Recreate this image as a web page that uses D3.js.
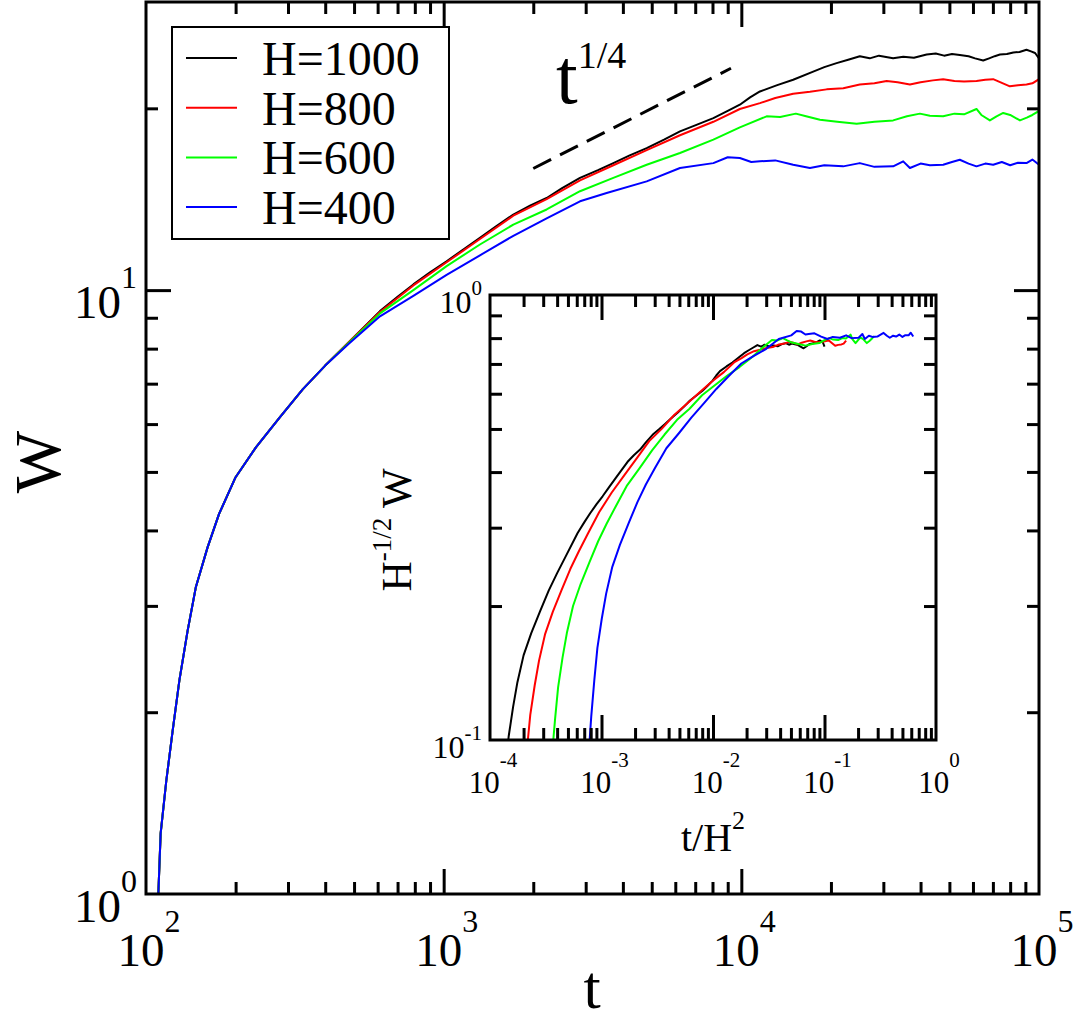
<!DOCTYPE html>
<html><head><meta charset="utf-8">
<script src="https://cdn.jsdelivr.net/npm/d3@7"></script>
<style>
body{margin:0;background:#fff}
svg{display:block}
</style>
</head><body><script>
// ---------------- DATA ----------------
const heightsH = [1000, 800, 600, 400];
const seriesNames = ["H=1000", "H=800", "H=600", "H=400"];
const seriesColors = ["#000000", "#ff0000", "#00ff00", "#0000ff"];

// early-time part, identical for all H  [t, W]
const earlyPart = [[110,1.0],[112,1.26],[117,1.54],[123,1.87],[129.5,2.26],[138,2.73],[147,3.22],[161,3.75],[176,4.26],[200,4.9],[234,5.49],[281,6.15],[336,6.85],[400,7.5]];

const lateH1000 = [[480,8.2],[611,9.23],[700,9.75],[791,10.22],[900,10.7],[1023,11.16],[1170,11.7],[1324,12.21],[1500,12.75],[1714,13.34],[1950,13.8],[2218,14.21],[2500,14.75],[2871,15.34],[3300,15.8],[3715,16.23],[4200,16.7],[4809,17.19],[5500,17.75],[6222,18.32],[7100,18.8],[8054,19.27],[9000,19.8],[9886,20.28],[10700,20.85],[11548,21.33],[13200,21.85],[14933,22.3],[17436,23.01],[19000,23.4],[20893,23.76],[23000,24.1],[25003,24.4],[27000,24.2],[29000,24.45],[32359,24.2],[35000,24.35],[38000,24.25],[41929,24.55],[45000,24.65],[48000,24.45],[51000,24.6],[54200,24.5],[58000,24.4],[61000,24.2],[64937,24.0],[68000,24.2],[71000,24.4],[73930,24.55],[78000,24.6],[82000,24.75],[86000,24.8],[90780,25.0],[94000,24.85],[97000,24.7],[100000,24.2]];

const lateH800 = [[480,8.2],[611,9.2],[791,10.18],[1023,11.12],[1324,12.15],[1714,13.28],[2218,14.15],[2871,15.2],[3715,16.1],[4809,17.05],[6222,18.05],[8054,19.0],[9886,19.95],[11548,20.4],[13000,20.8],[14933,21.15],[17000,21.3],[19346,21.5],[22000,21.6],[25003,21.9],[28000,22.0],[30760,22.2],[33500,22.1],[36840,21.9],[40000,22.1],[44000,22.25],[47640,22.35],[52000,22.2],[56000,22.15],[61660,22.2],[66000,22.3],[70150,22.35],[74000,22.1],[79830,21.75],[85000,21.85],[90780,21.9],[95000,22.0],[100000,22.35]];

const lateH600 = [[480,8.18],[611,9.15],[791,10.0],[1023,10.96],[1324,11.9],[1714,12.84],[2218,13.6],[2871,14.58],[3715,15.34],[4809,16.13],[6222,16.87],[8054,17.75],[9886,18.6],[12160,19.4],[13500,19.35],[15240,19.6],[16500,19.4],[18370,19.15],[21000,19.0],[24400,18.85],[28000,19.0],[32359,19.1],[36000,19.4],[39810,19.6],[43000,19.45],[47640,19.4],[52000,19.6],[56000,19.55],[61660,19.95],[64000,19.5],[68390,19.1],[72000,19.4],[75820,19.65],[80000,19.5],[86300,19.1],[91000,19.3],[95000,19.5],[100000,19.8]];

const lateH400 = [[480,8.15],[611,9.05],[791,9.78],[1023,10.6],[1324,11.42],[1714,12.3],[2218,13.15],[2871,14.03],[3528,14.48],[4809,15.14],[6222,15.93],[8054,16.23],[9000,16.6],[9886,16.55],[10800,16.3],[11548,16.34],[13000,16.4],[14933,16.13],[17000,15.93],[19000,16.1],[21980,16.03],[25003,16.23],[28000,16.0],[32359,16.03],[34980,16.34],[36840,15.93],[40000,16.2],[43000,16.1],[47640,16.13],[51000,16.3],[54200,16.44],[58000,16.2],[61660,16.03],[66000,16.2],[70150,16.13],[75000,16.3],[80000,16.1],[85000,16.25],[90780,16.23],[95000,16.45],[100000,16.13]];

// t^(1/4) guide line [t, W]
const guideLine = [[2000,15.9],[9230,23.3]];

// tick labels (exponents of 10)
const mainXExps = [2,3,4,5];
const mainYExps = [0,1];
const insetXExps = [-4,-3,-2,-1,0];
const insetYExps = [-1,0];

// ---------------- SETUP ----------------
const FONT = "'Liberation Serif','Times New Roman',Times,'DejaVu Serif',serif";
const svg = d3.select("body").append("svg").attr("width",1075).attr("height",1021)
  .attr("font-family", FONT).style("font-family", FONT);

const x = d3.scaleLog().domain([1e2,1e5]).range([146,1039]);
const y = d3.scaleLog().domain([1,30]).range([894,2]);
const xi = d3.scaleLog().domain([1e-4,1]).range([490,936]);
const yi = d3.scaleLog().domain([0.1,1]).range([740,295]);

const seriesData = [lateH1000, lateH800, lateH600, lateH400].map(l => earlyPart.concat(l));

const defs = svg.append("defs");
defs.append("clipPath").attr("id","clipMain").append("rect")
  .attr("x",146).attr("y",2).attr("width",893).attr("height",892);
defs.append("clipPath").attr("id","clipInset").append("rect")
  .attr("x",490).attr("y",295).attr("width",446).attr("height",445);

function minorTicks(lo, hi) {
  const out = [];
  for (let e = lo; e < hi; e++) for (let m = 2; m <= 9; m++) out.push(m * Math.pow(10, e));
  return out;
}

function drawTicks(g, xs, ys, xMinor, xMajor, yMinor, yMajor, minorLen, majorLen) {
  const [x0,x1] = xs.range(), [y0,y1] = ys.range();
  const addAxis = (axisFn, scale, vals, len, tr) => {
    const a = g.append("g").attr("transform", tr)
      .call(axisFn(scale).tickValues(vals).tickSize(-len).tickFormat(""));
    a.select(".domain").remove();
    a.selectAll("line").attr("stroke","#000").attr("stroke-width",3);
  };
  addAxis(d3.axisBottom, xs, xMinor, minorLen, `translate(0,${y0})`);
  addAxis(d3.axisBottom, xs, xMajor, majorLen, `translate(0,${y0})`);
  addAxis(d3.axisTop, xs, xMinor, minorLen, `translate(0,${y1})`);
  addAxis(d3.axisTop, xs, xMajor, majorLen, `translate(0,${y1})`);
  addAxis(d3.axisLeft, ys, yMinor, minorLen, `translate(${x0},0)`);
  addAxis(d3.axisLeft, ys, yMajor, majorLen, `translate(${x0},0)`);
  addAxis(d3.axisRight, ys, yMinor, minorLen, `translate(${x1},0)`);
  addAxis(d3.axisRight, ys, yMajor, majorLen, `translate(${x1},0)`);
}

function powLabel(g, px, py, exp, anchor, size, supSize, supDy) {
  const t = g.append("text").attr("x",px).attr("y",py).attr("text-anchor",anchor)
    .attr("font-family", FONT).style("font-size", size + "px");
  t.append("tspan").text("10");
  t.append("tspan").attr("dy", supDy).style("font-size", supSize + "px").text(String(exp));
}

// ---------------- MAIN PLOT ----------------
const line = d3.line().x(d => x(d[0])).y(d => y(d[1]));
const gMain = svg.append("g").attr("clip-path","url(#clipMain)");
seriesData.forEach((s,i) => {
  gMain.append("path").datum(s).attr("d", line)
    .attr("fill","none").attr("stroke", seriesColors[i]).attr("stroke-width",2)
    .attr("stroke-linejoin","round");
});

svg.append("path").datum(guideLine).attr("d", line)
  .attr("fill","none").attr("stroke","#000").attr("stroke-width",3)
  .attr("stroke-dasharray","20,10");

drawTicks(svg, x, y,
  minorTicks(2,5), [1e3,1e4],
  [2,3,4,5,6,7,8,9,20], [10], 12, 25);

svg.append("rect").attr("x",146).attr("y",2).attr("width",893).attr("height",892)
  .attr("fill","none").attr("stroke","#000").attr("stroke-width",3);

mainXExps.forEach(e => powLabel(svg, x(Math.pow(10,e)) + 3, 966, e, "middle", 47, 32, -34));
mainYExps.forEach(e => powLabel(svg, 137, y(Math.pow(10,e)) + 28, e, "end", 47, 32, -30));

svg.append("text").attr("x",592).attr("y",1008).attr("text-anchor","middle")
  .attr("font-family", FONT).style("font-size","62px").text("t");
svg.append("text").attr("transform","translate(60,462) rotate(-90)")
  .attr("text-anchor","middle").attr("font-family", FONT).style("font-size","66px").text("W");

const ann = svg.append("text").attr("x",556).attr("y",103).attr("font-family", FONT)
  .style("font-size","78px");
ann.append("tspan").text("t");
ann.append("tspan").attr("dy",-35).style("font-size","38px").text("1/4");

// ---------------- LEGEND ----------------
const leg = svg.append("g");
leg.append("rect").attr("x",172).attr("y",27).attr("width",277).attr("height",212)
  .attr("fill","#fff").attr("stroke","#000").attr("stroke-width",2);
seriesNames.forEach((n,i) => {
  const ly = 58 + i * 49.7;
  leg.append("line").attr("x1",186).attr("x2",237).attr("y1",ly).attr("y2",ly)
    .attr("stroke", seriesColors[i]).attr("stroke-width",2);
  leg.append("text").attr("x",262).attr("y",ly + 17).attr("font-family", FONT)
    .style("font-size","48px").text(n);
});

// ---------------- INSET ----------------
svg.append("rect").attr("x",490).attr("y",295).attr("width",446).attr("height",445)
  .attr("fill","#fff");
const lineI = d3.line().x(d => xi(d[0])).y(d => yi(d[1]));
const gIn = svg.append("g").attr("clip-path","url(#clipInset)");
seriesData.forEach((s,i) => {
  const H = heightsH[i];
  const scaled = s.map(d => [d[0] / (H * H), d[1] / Math.sqrt(H)]);
  gIn.append("path").datum(scaled).attr("d", lineI)
    .attr("fill","none").attr("stroke", seriesColors[i]).attr("stroke-width",2)
    .attr("stroke-linejoin","round");
});

drawTicks(svg, xi, yi,
  minorTicks(-4,0), [1e-3,1e-2,1e-1],
  [0.2,0.3,0.4,0.5,0.6,0.7,0.8,0.9], [], 12, 25);

svg.append("rect").attr("x",490).attr("y",295).attr("width",446).attr("height",445)
  .attr("fill","none").attr("stroke","#000").attr("stroke-width",3);

insetXExps.forEach(e => powLabel(svg, xi(Math.pow(10,e)) + 3, 793, e, "middle", 31, 21, -26));
insetYExps.forEach(e => powLabel(svg, 482, yi(Math.pow(10,e)) + 18, e, "end", 32, 21, -18));

const xl = svg.append("text").attr("x",713).attr("y",851).attr("text-anchor","middle")
  .attr("font-family", FONT).style("font-size","40px");
xl.append("tspan").text("t/H");
xl.append("tspan").attr("dy",-22).style("font-size","26px").text("2");

const yl = svg.append("text").attr("transform","translate(411,530) rotate(-90)")
  .attr("text-anchor","middle").attr("font-family", FONT).style("font-size","42px");
yl.append("tspan").text("H");
yl.append("tspan").attr("dy",-20).style("font-size","27px").text("-1/2");
yl.append("tspan").attr("dy",20).text(" W");
</script></body></html>
